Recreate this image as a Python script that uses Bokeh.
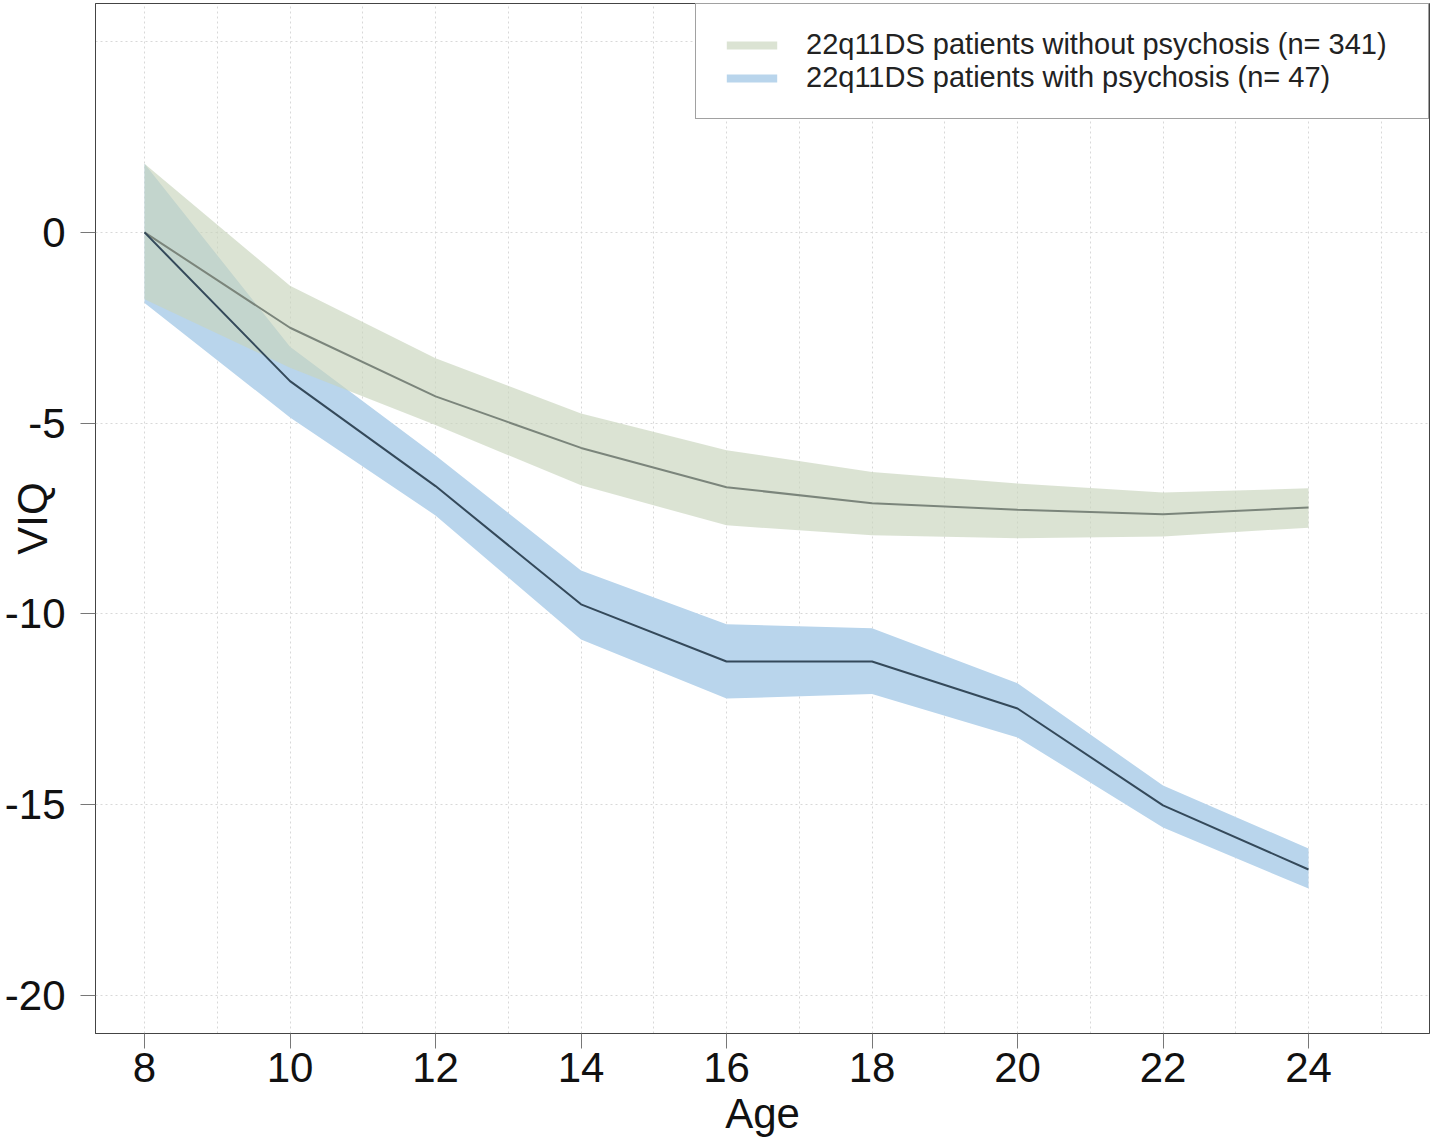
from bokeh.plotting import figure
from bokeh.models import FixedTicker, Legend, LegendItem, Range1d, CustomJSTickFormatter
from bokeh.embed import file_html
from bokeh.resources import INLINE

ages = [8, 10, 12, 14, 16, 18, 20, 22, 24]

no_psy_mean = [0.0, -2.5, -4.3, -5.65, -6.68, -7.1, -7.27, -7.39, -7.21]
no_psy_upper = [1.8, -1.4, -3.3, -4.75, -5.71, -6.28, -6.58, -6.82, -6.71]
no_psy_lower = [-1.75, -3.55, -5.05, -6.63, -7.68, -7.94, -8.02, -7.97, -7.74]

psy_mean = [0.0, -3.9, -6.65, -9.75, -11.25, -11.25, -12.48, -15.02, -16.7]
psy_upper = [1.8, -3.0, -5.85, -8.86, -10.27, -10.38, -11.82, -14.5, -16.15]
psy_lower = [-1.85, -4.85, -7.42, -10.67, -12.22, -12.1, -13.24, -15.6, -17.2]

x_ticks = [8, 10, 12, 14, 16, 18, 20, 22, 24]
y_ticks = [-20, -15, -10, -5, 0]
x_grid = list(range(8, 26))
y_grid = [-20, -15, -10, -5, 0, 5]

label_no_psy = "22q11DS patients without psychosis (n= 341)"
label_psy = "22q11DS patients with psychosis (n= 47)"

FONT = "Liberation Sans"

p = figure(width=1431, height=1143, output_backend="svg", toolbar_location=None,
           x_range=Range1d(7.326, 25.663), y_range=Range1d(-21.0, 6.0),
           min_border_left=95, min_border_right=2, min_border_top=3, min_border_bottom=110)

p.background_fill_color = "white"
p.border_fill_color = "white"
p.outline_line_color = "#444444"
p.outline_line_width = 1

# bands
blue_band = p.varea(x=ages, y1=psy_lower, y2=psy_upper, fill_color="#b9d5ec", fill_alpha=1.0)
green_band = p.varea(x=ages, y1=no_psy_lower, y2=no_psy_upper, fill_color="#c8d5bc", fill_alpha=0.66)

# mean lines
p.line(ages, no_psy_mean, line_color="#7b857b", line_width=2)
p.line(ages, psy_mean, line_color="#34495a", line_width=2)

legend = Legend(items=[LegendItem(label=label_no_psy, renderers=[green_band]),
                       LegendItem(label=label_psy, renderers=[blue_band])],
                location="top_right", margin=0, padding=24, spacing=0,
                glyph_width=63, glyph_height=10, label_height=32, label_width=598,
                label_standoff=23,
                label_text_font=FONT, label_text_font_size="29px", label_text_color="#222222",
                border_line_color="#444444", border_line_width=1,
                background_fill_color="white", background_fill_alpha=1.0)
p.add_layout(legend, "center")

# grids
p.xgrid.ticker = FixedTicker(ticks=x_grid)
p.ygrid.ticker = FixedTicker(ticks=y_grid)
for g in (p.xgrid, p.ygrid):
    g.grid_line_color = "#d8d8d8"
    g.grid_line_dash = "2 3"
    g.grid_line_width = 1

# axes
p.xaxis.ticker = FixedTicker(ticks=x_ticks)
p.yaxis.ticker = FixedTicker(ticks=y_ticks)
fmt = CustomJSTickFormatter(code="return String(Math.round(tick));")
for ax in (p.xaxis, p.yaxis):
    ax.formatter = fmt
    ax.axis_line_color = "#444444"
    ax.major_tick_line_color = "#777777"
    ax.major_tick_in = 0
    ax.major_tick_out = 15
    ax.minor_tick_line_color = None
    ax.major_label_text_font = FONT
    ax.major_label_text_font_size = "42px"
    ax.major_label_text_color = "#111111"
    ax.axis_label_text_font = FONT
    ax.axis_label_text_font_size = "42px"
    ax.axis_label_text_font_style = "normal"
    ax.axis_label_text_color = "#111111"

p.xaxis.axis_label = "Age"
p.xaxis.major_label_standoff = 4
p.xaxis.axis_label_standoff = 5

p.yaxis.axis_label = "VIQ"
p.yaxis.major_label_standoff = 15
p.yaxis.axis_label_standoff = -54

open("out.html", "w").write(file_html(p, INLINE))
